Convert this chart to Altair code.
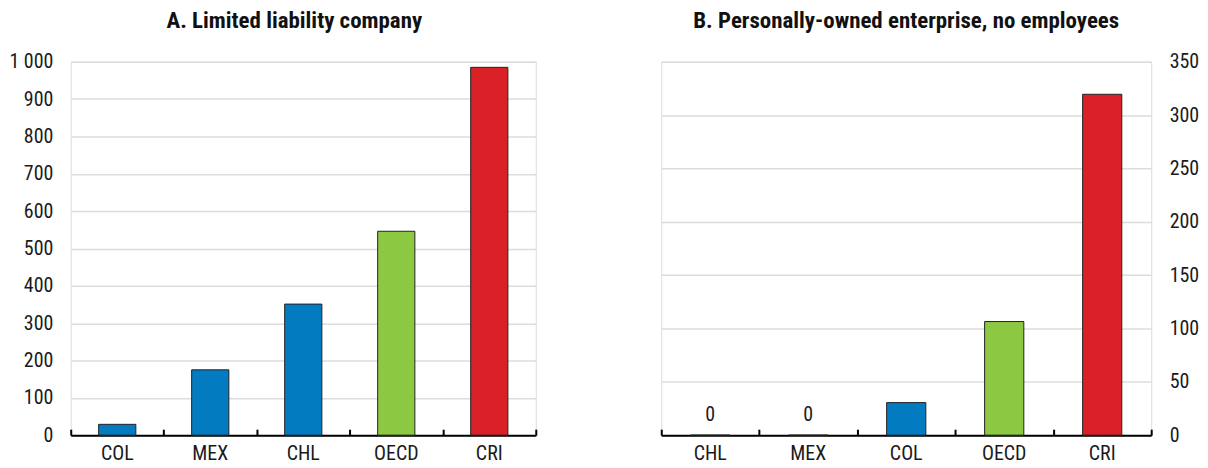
import altair as alt
import pandas as pd

# Panel A: Limited liability company
countries_a = ["COL", "MEX", "CHL", "OECD", "CRI"]
values_a = [29, 175, 351, 546, 985]

# Panel B: Personally-owned enterprise, no employees
countries_b = ["CHL", "MEX", "COL", "OECD", "CRI"]
values_b = [0, 0, 30.5, 106.5, 319.5]

title_a = "A. Limited liability company"
title_b = "B. Personally-owned enterprise, no employees"

ticks_a = list(range(0, 1001, 100))
ticks_b = list(range(0, 351, 50))

color_map = {"COL": "#037BC1", "MEX": "#037BC1", "CHL": "#037BC1",
             "OECD": "#8CC841", "CRI": "#DA2128"}

FONT = "Liberation Sans Narrow, Arial Narrow, Roboto Condensed, DejaVu Sans Condensed, sans-serif"
H = 375


def panel(countries, values, ymax, yticks, title, width, yorient, label_zero, dx):
    df = pd.DataFrame({"country": countries, "value": values})
    x_bottom = alt.X("country:N", sort=countries,
                     scale=alt.Scale(domain=countries, paddingInner=0.6, paddingOuter=0.3),
                     title=None,
                     axis=alt.Axis(orient="bottom", labelAngle=0, labelFontSize=20,
                                   labelFont=FONT, labelColor="#1a1a1a", labelPadding=8,
                                   ticks=False, tickSize=0, domain=True,
                                   domainColor="#000000", domainWidth=2, grid=False))
    x_top = alt.X("country:N", sort=countries,
                  scale=alt.Scale(domain=countries, paddingInner=0, paddingOuter=0),
                  title=None,
                  axis=alt.Axis(orient="top", offset=-H, labels=False, domain=False,
                                ticks=True, tickSize=6, tickWidth=2, tickColor="#000000",
                                tickBand="extent", grid=False, minExtent=0, maxExtent=0))
    y = alt.Y("value:Q", scale=alt.Scale(domain=[0, ymax], nice=False, zero=True), title=None,
              axis=alt.Axis(orient=yorient, values=yticks, labelFontSize=20, labelFont=FONT,
                            labelColor="#1a1a1a", labelPadding=18, ticks=False, tickSize=0,
                            domain=False, grid=True, gridColor="#dcdcdc", gridWidth=1.5,
                            labelOverlap=False,
                            labelExpr="replace(format(datum.value, ','), ',', ' ')"))
    colors = alt.Color("country:N", scale=alt.Scale(domain=list(color_map.keys()),
                                                    range=list(color_map.values())),
                       legend=None)
    bars = alt.Chart(df).mark_bar(stroke="#222222", strokeWidth=1).encode(
        x=x_bottom, y=y, color=colors)
    if label_zero:
        txt = alt.Chart(df).transform_filter("datum.value == 0").mark_text(
            font=FONT, fontSize=20, color="#1a1a1a", baseline="alphabetic", dy=-14.5
        ).encode(x=x_top, y=y, text=alt.Text("value:Q", format="d"))
    else:
        txt = alt.Chart(df).mark_bar(opacity=0).encode(x=x_top, y=y)
    return alt.layer(bars, txt).resolve_scale(x="independent").resolve_axis(
        x="independent").properties(
        width=width, height=H,
        title=alt.TitleParams(title, font=FONT, fontSize=23, fontWeight="bold",
                              color="#111111", frame="group", offset=1,
                              baseline="alphabetic", anchor="middle", dx=dx))


left = panel(countries_a, values_a, 1000, ticks_a, title_a, 467, "left", False, -9)
right = panel(countries_b, values_b, 350, ticks_b, title_b, 492, "right", True, 0)

chart = alt.hconcat(left, right, spacing=122).properties(padding=0).configure_view(
    stroke=None).configure(background="white")

chart.save("out.html", embed_options={"renderer": "svg", "actions": False})
